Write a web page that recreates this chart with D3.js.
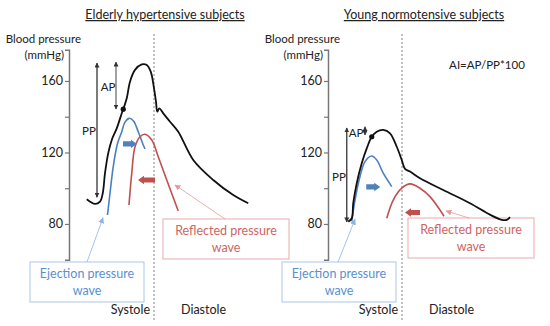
<!DOCTYPE html>
<html>
<head>
<meta charset="utf-8">
<script src="https://cdn.jsdelivr.net/npm/d3@7"></script>
<style>
  body { margin: 0; background: #fff; }
  text { font-family: Lato, "Open Sans", sans-serif; }
</style>
</head>
<body>
<svg id="chart" width="550" height="326"></svg>
<script>
// time (ms from start of beat) and pressure (mmHg)
const elderlyAortic = [[71,93.8],[104,91.2],[124,92.5],[135,97.2],[144,108.4],[157,119.6],[171,127],
  [191,133.5],[211,141.9],[217,144.2],[231,150.3],[244,159.6],[264,166.2],[291,169.3],[311,169],
  [327,165.2],[340,155.9],[348,148.4],[353,142.8],[361,144.7],[377,141.9],[404,137.2],[437,131.6],
  [497,115.8],[577,104.6],[657,96.2],[717,91.6]];
const elderlyEjection = [[154,85],[164,97.2],[177,112.1],[194,125],[211,131.6],[224,137],[241,139.1],
  [258,137.6],[277,131.6],[297,124.2],[304,122]];
const elderlyReflected = [[240,90.6],[251,108.4],[264,123.2],[284,128.8],[304,130.2],[331,127],
  [357,117.6],[391,104.6],[437,87.3]];

const youngAortic = [[81,81.3],[95,83.2],[101,91.6],[115,102.8],[135,114],[155,122.3],[175,128.8],
  [195,131.6],[221,132.6],[248,130.7],[275,123.2],[295,115.8],[308,110.8],[328,109.3],[368,105.6],
  [461,99],[568,91.6],[648,85.2],[695,82.3],[715,82.3],[728,83.8]];
const youngEjection = [[95,81.5],[108,93.4],[128,106.5],[148,114.9],[175,118],[195,115.8],
  [221,108.4],[255,100.9]];
const youngReflected = [[235,83.2],[261,93.4],[295,100],[328,102.4],[368,100],[408,95.3],
  [448,87.8],[464,84.3]];

const yTicks = [80, 100, 120, 140, 160];
const yLabels = [80, 120, 160];

const black = "#111", blue = "#4a7fc1", red = "#c0504d";

const svg = d3.select("#chart");
const y = d3.scaleLinear().domain([60, 177.5]).range([259.7, 49.7]);

// markers
const defs = svg.append("defs");
function marker(id, color, size) {
  defs.append("marker")
    .attr("id", id)
    .attr("viewBox", "0 0 10 10")
    .attr("refX", 9).attr("refY", 5)
    .attr("markerUnits", "userSpaceOnUse")
    .attr("markerWidth", size).attr("markerHeight", size)
    .attr("orient", "auto-start-reverse")
    .append("path")
    .attr("d", "M0,0L10,5L0,10z")
    .attr("fill", color);
}
marker("head-grey", "#333", 5);
marker("head-blue", "#8fb3e0", 6);
marker("head-red", "#e59a9a", 6);

const panels = [
  { title: "Elderly hypertensive subjects", titleX: 165, axisX: 69,
    aortic: elderlyAortic, ejection: elderlyEjection, reflected: elderlyReflected,
    systoleEnd: 340, notch: [217, 144.2],
    pp: { t: 112, lo: 95, hi: 170 }, ap: { t: 188, lo: 144.3, hi: 170.6 },
    ppLabel: [80, 132], apLabel: [156, 156.6],
    blueArrow: [244, 124.8, 1, 14], redArrow: [310, 104.6, -1, 17],
    ejBox: [30, 262], rfBox: [163, 219],
    ejPointer: [[87, 262], [136, 83.4]], rfPointer: [[225, 219], [424, 101.8]] },
  { title: "Young normotensive subjects", titleX: 424, axisX: 328,
    aortic: youngAortic, ejection: youngEjection, reflected: youngReflected,
    systoleEnd: 296, notch: [175, 128.8],
    pp: { t: 75, lo: 81.1, hi: 133.7 }, ap: { t: 148, lo: 129.8, hi: 134.4 },
    ppLabel: [44, 106], apLabel: [112, 130.9],
    blueArrow: [181, 100.7, 1, 14], redArrow: [338, 86.4, -1, 15],
    ejBox: [282, 262], rfBox: [408, 218],
    ejPointer: [[338, 262], [108, 82.6]], rfPointer: [[469, 218], [472, 87.3]] }
];

panels.forEach(p => {
  const x = d3.scaleLinear().domain([0, 1000]).range([p.axisX, p.axisX + 250]);
  const g = svg.append("g");

  g.append("text")
    .attr("x", p.titleX).attr("y", 19)
    .attr("text-anchor", "middle")
    .attr("font-size", 12.5)
    .attr("fill", "#222")
    .attr("text-decoration", "underline")
    .text(p.title);

  g.append("text")
    .attr("x", p.axisX + 12).attr("y", 43)
    .attr("text-anchor", "end").attr("font-size", 11.5).attr("fill", "#222")
    .text("Blood pressure");
  g.append("text")
    .attr("x", p.axisX - 5).attr("y", 59)
    .attr("text-anchor", "end").attr("font-size", 11.5).attr("fill", "#222")
    .text("(mmHg)");

  // y axis
  const axis = g.append("g")
    .attr("transform", `translate(${p.axisX},0)`)
    .call(d3.axisLeft(y).tickValues(yTicks).tickSize(4).tickSizeOuter(4)
      .tickFormat(d => yLabels.includes(d) ? d : ""));
  axis.select(".domain").attr("stroke", "#777").attr("stroke-width", 1.5);
  axis.selectAll(".tick line").attr("stroke", "#777").attr("stroke-width", 1.2);
  axis.selectAll(".tick text").attr("font-size", 12.5).attr("fill", "#222")
    .attr("font-family", "Lato, 'Open Sans', sans-serif").attr("dx", 1);

  // systole / diastole divider
  g.append("line")
    .attr("x1", x(p.systoleEnd)).attr("x2", x(p.systoleEnd))
    .attr("y1", 34).attr("y2", 320)
    .attr("stroke", "#666").attr("stroke-width", 0.8)
    .attr("stroke-dasharray", "2,2");

  g.append("text").attr("x", x(p.systoleEnd) - 4).attr("y", 314)
    .attr("text-anchor", "end").attr("font-size", 12.5).attr("fill", "#222").text("Systole");
  g.append("text").attr("x", x(p.systoleEnd) + 27).attr("y", 314)
    .attr("text-anchor", "start").attr("font-size", 12.5).attr("fill", "#222").text("Diastole");

  // callout boxes (drawn under the curves)
  function callout([bx, by], w, hgt, lines, stroke, color) {
    g.append("rect").attr("x", bx).attr("y", by).attr("width", w).attr("height", hgt)
      .attr("fill", "#fff").attr("stroke", stroke).attr("stroke-width", 1);
    lines.forEach((s, i) => g.append("text")
      .attr("x", bx + w / 2).attr("y", by + 16 + i * 17)
      .attr("text-anchor", "middle").attr("font-size", 12.5).attr("fill", color).text(s));
  }
  callout(p.ejBox, 114, 40, ["Ejection pressure", "wave"], "#a9c5ea", "#5b8fd0");
  callout(p.rfBox, 126, 40, ["Reflected pressure", "wave"], "#eaa9a9", "#cf6464");
  g.append("line")
    .attr("x1", p.ejPointer[0][0]).attr("y1", p.ejPointer[0][1])
    .attr("x2", x(p.ejPointer[1][0])).attr("y2", y(p.ejPointer[1][1]))
    .attr("stroke", "#8fb3e0").attr("stroke-width", 0.8).attr("marker-end", "url(#head-blue)");
  g.append("line")
    .attr("x1", p.rfPointer[0][0]).attr("y1", p.rfPointer[0][1])
    .attr("x2", x(p.rfPointer[1][0])).attr("y2", y(p.rfPointer[1][1]))
    .attr("stroke", "#e59a9a").attr("stroke-width", 0.8).attr("marker-end", "url(#head-red)");

  const line = d3.line().x(d => x(d[0])).y(d => y(d[1])).curve(d3.curveCatmullRom.alpha(0.5));

  g.append("path").datum(p.ejection).attr("d", line)
    .attr("fill", "none").attr("stroke", blue).attr("stroke-width", 1.6);
  g.append("path").datum(p.reflected).attr("d", line)
    .attr("fill", "none").attr("stroke", red).attr("stroke-width", 1.6);
  g.append("path").datum(p.aortic).attr("d", line)
    .attr("fill", "none").attr("stroke", black).attr("stroke-width", 1.8);

  g.append("circle").attr("cx", x(p.notch[0])).attr("cy", y(p.notch[1]))
    .attr("r", 2.6).attr("fill", black);

  // PP and AP double arrows
  [[p.pp, 1.4], [p.ap, 1]].forEach(([a, w]) => {
    g.append("line")
      .attr("x1", x(a.t)).attr("x2", x(a.t))
      .attr("y1", y(a.lo)).attr("y2", y(a.hi))
      .attr("stroke", "#444").attr("stroke-width", w)
      .attr("marker-start", "url(#head-grey)")
      .attr("marker-end", "url(#head-grey)");
  });
  g.append("text").attr("x", x(p.ppLabel[0])).attr("y", y(p.ppLabel[1]) + 4)
    .attr("text-anchor", "middle").attr("font-size", 11.5).attr("fill", "#222").text("PP");
  g.append("text").attr("x", x(p.apLabel[0])).attr("y", y(p.apLabel[1]) + 4)
    .attr("text-anchor", "middle").attr("font-size", 11.5).attr("fill", "#222").text("AP");

  // block arrows
  function blockArrow([t, v, dir, len], color) {
    const cx = x(t), cy = y(v), h = len / 2, s = 2.6, hh = 4.2, hl = 6;
    const pts = [[-h, -s], [h - hl, -s], [h - hl, -hh], [h, 0], [h - hl, hh], [h - hl, s], [-h, s]]
      .map(([a, b]) => [cx + a * dir, cy + b]);
    g.append("path").attr("d", "M" + pts.join("L") + "Z").attr("fill", color);
  }
  blockArrow(p.blueArrow, "#4f81bd");
  blockArrow(p.redArrow, red);
});

svg.append("text").attr("x", 487).attr("y", 69)
  .attr("text-anchor", "middle").attr("font-size", 11.5).attr("fill", "#222")
  .text("AI=AP/PP*100");
</script>
</body>
</html>
